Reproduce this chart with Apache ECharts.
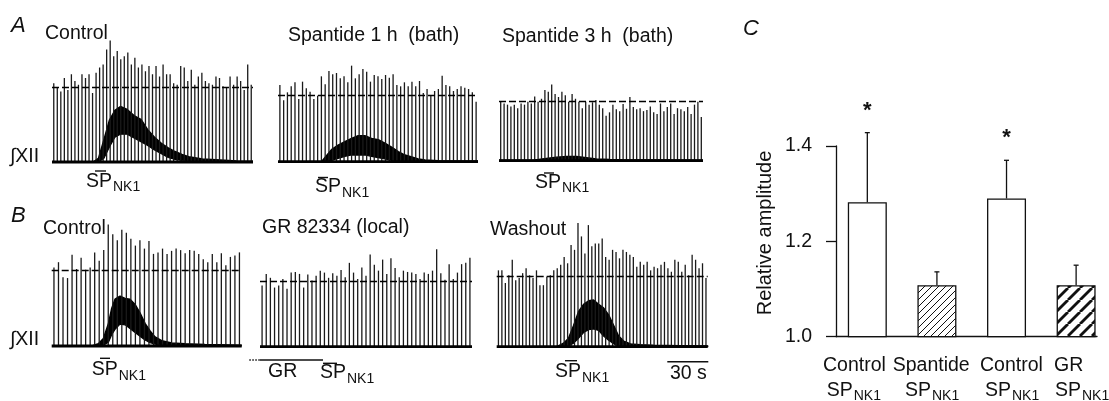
<!DOCTYPE html>
<html><head><meta charset="utf-8">
<script src="https://cdn.jsdelivr.net/npm/echarts@6/dist/echarts.min.js"></script>
<style>html,body{margin:0;padding:0;background:#fff}#c{width:1109px;height:401px}</style>
</head><body><div id="c"></div>
<script>
// ================= DATA =================
// Panel C: relative amplitude of hypoglossal (XII) bursts
const barCategories = ['Control', 'Spantide', 'Control', 'GR'];
const barAgonist = ['SP', 'SP', 'SP', 'SP'];
const barAgonistSub = ['NK1', 'NK1', 'NK1', 'NK1'];
const barMeans = [1.282, 1.108, 1.29, 1.108];
const barErrTops = [1.428, 1.136, 1.37, 1.15];
const barSignif = ['*', '', '*', ''];
const barFills = ['open', 'thin', 'open', 'thick'];
const ampTicks = [1.0, 1.2, 1.4];

// Panels A/B: integrated XII burst amplitudes (relative to dashed control mean = 1)
const dashLevel = 1;
const traceTitles = ['Control', 'Spantide 1 h  (bath)', 'Spantide 3 h  (bath)', 'Control', 'GR 82334 (local)', 'Washout'];
const traceDurations = [147, 146, 149, 139, 155, 154]; // s
const scaleBarSeconds = 30;

const spikesA1 = [1.05,0.99,0.94,1.12,0.96,1.17,1.08,1.03,1.17,1.12,1.17,0.92,1.19,1.26,1.30,1.50,1.62,1.41,1.48,1.37,1.41,1.46,1.30,1.39,1.26,1.30,1.21,1.28,1.17,1.28,1.14,1.30,1.17,1.17,1.05,1.03,1.28,1.26,1.08,1.23,1.03,1.14,1.19,1.08,1.05,1.03,1.14,1.12,1.01,0.99,1.14,1.03,1.14,1.08,0.96,1.30,1.03];
const spikesA2 = [1.15,0.92,1.04,1.13,1.19,0.94,1.2,1.1,1.05,0.94,0.99,1.28,1.16,1.36,1.31,1.33,1.25,1.28,1.19,1.44,1.25,1.31,1.39,1.35,1.2,1.3,1.28,1.24,1.3,1.26,1.31,1.15,1.13,1.19,1.13,1.2,1.13,1.21,1.03,1.09,0.99,1.06,1.09,1.29,1.15,1.13,1.06,1.09,1.13,1.11,1.09,1.04,0.9];
const spikesA3 = [1.0,0.97,0.95,0.92,0.95,0.89,0.97,0.95,1.0,0.97,1.09,1.0,1.05,1.2,1.17,1.29,1.13,1.08,1.17,1.11,1.0,1.13,1.05,1.0,0.89,1.0,0.95,0.99,1.03,0.95,0.89,0.76,0.82,0.95,0.87,0.84,0.96,0.88,1.08,0.91,0.87,0.89,0.84,0.86,0.92,0.82,0.79,0.97,0.84,0.91,0.97,0.79,0.89,0.87,0.84,0.91,0.79,0.95,1.0,0.74];
const spikesB1 = [1.04,1.11,0.91,0.9,1.21,1.02,1.17,1.01,1.04,1.24,1.13,1.27,1.61,1.48,1.4,1.54,1.5,1.42,1.33,1.4,1.29,1.39,1.22,1.24,1.29,1.22,1.26,1.29,1.27,1.23,1.27,1.26,1.22,1.15,1.11,1.22,1.11,1.23,1.07,1.18,1.2,1.24];
const spikesB2 = [0.94,1.12,1.06,0.91,0.94,1.04,0.89,1.14,1.15,1.12,0.91,1.11,1.02,1.09,1.17,1.14,1.06,1.13,1.09,1.18,1.07,1.29,1.14,1.04,1.22,1.09,1.42,1.26,1.17,1.34,1.12,1.36,1.21,1.07,1.17,1.15,1.14,1.12,1.04,1.14,1.12,1.17,1.5,1.13,1.03,1.27,1.04,1.14,1.27,1.29,1.37];
const spikesB3 = [1.08,1.08,0.9,1.01,1.23,0.94,0.97,1.04,1.11,1.01,0.97,1.08,0.87,0.87,0.99,1.01,1.08,1.11,1.16,1.27,1.18,1.44,1.37,1.75,1.56,1.32,1.72,1.42,1.46,1.46,1.53,1.27,1.23,1.37,1.34,1.25,1.37,1.34,1.3,1.27,1.13,1.2,1.16,1.2,1.08,1.13,1.11,1.16,1.2,1.11,1.06,1.23,1.2,1.06,1.16,1.01,1.3,1.23,1.11,1.18,0.97];

// Tonic SP-evoked activity (dense black envelope): time (s), upper edge, lower edge
const humpA1T  = [30,34,38,42,46,50,55,60,65,70,75,80,85,90,95,100,110,120,135,147];
const humpA1Hi = [0,0.05,0.3,0.56,0.69,0.74,0.7,0.62,0.57,0.43,0.33,0.25,0.19,0.14,0.1,0.07,0.04,0.03,0.015,0.01];
const humpA1Lo = [0,0,0.05,0.2,0.33,0.37,0.37,0.32,0.27,0.22,0.16,0.11,0.06,0.035,0.02,0.01,0,0,0,0];
const humpA2T  = [31.7,39,43.9,48.8,53.7,58.5,63.4,68.3,73.2,78,82.9,87.8,92.7,97.6,102.4,107.3,117,146];
const humpA2Hi = [0,0.18,0.25,0.3,0.35,0.39,0.39,0.35,0.33,0.28,0.22,0.15,0.1,0.07,0.04,0.025,0.015,0.01];
const humpA2Lo = [0,0.02,0.05,0.08,0.1,0.1,0.1,0.08,0.06,0.04,0.02,0,0,0,0,0,0,0];
const humpA3T  = [0,24.9,34.6,42,49.3,56.6,63.9,71.2,81,90.7,149];
const humpA3Hi = [0.01,0.01,0.04,0.06,0.07,0.07,0.05,0.03,0.02,0.015,0.01];
const humpA3Lo = [0,0,0,0,0,0,0,0,0,0,0];
const humpB1T  = [29.3,34.1,37.8,41.5,43.9,46.3,50,53.7,57.3,61,64.6,68.3,72,75.6,80.5,87.8,97.6,112.2,139];
const humpB1Hi = [0,0.03,0.1,0.3,0.5,0.62,0.66,0.63,0.62,0.55,0.44,0.3,0.2,0.12,0.07,0.04,0.03,0.02,0.01];
const humpB1Lo = [0,0,0.01,0.05,0.15,0.22,0.29,0.28,0.23,0.18,0.13,0.08,0.045,0.025,0.01,0,0,0,0];
const humpB2T  = [];
const humpB2Hi = [];
const humpB2Lo = [];
const humpB3T  = [43.9,48.8,52.4,56.1,59.8,63.4,67.1,70.7,74.4,78,81.7,85.4,89,92.7,97.6,104.9,114.6,134,154.4];
const humpB3Hi = [0,0.05,0.12,0.3,0.5,0.6,0.65,0.66,0.6,0.55,0.45,0.3,0.15,0.08,0.04,0.03,0.02,0.015,0.01];
const humpB3Lo = [0,0,0.01,0.05,0.12,0.2,0.24,0.25,0.23,0.15,0.09,0.04,0.01,0,0,0,0,0,0];

// ================= LAYOUT / STYLE =================
const FONT = '"Liberation Sans", Arial, Helvetica, sans-serif';
const INK = '#111';
const traces = [
  {spikes: spikesA1, hump: [humpA1T, humpA1Hi, humpA1Lo]},
  {spikes: spikesA2, hump: [humpA2T, humpA2Hi, humpA2Lo]},
  {spikes: spikesA3, hump: [humpA3T, humpA3Hi, humpA3Lo]},
  {spikes: spikesB1, hump: [humpB1T, humpB1Hi, humpB1Lo]},
  {spikes: spikesB2, hump: [humpB2T, humpB2Hi, humpB2Lo]},
  {spikes: spikesB3, hump: [humpB3T, humpB3Hi, humpB3Lo]}
];
const traceLayout = [
  {left: 52,    width: 201, base: 162,   dash: 87},
  {left: 278,   width: 200, base: 161.7, dash: 95},
  {left: 499,   width: 204, base: 160.7, dash: 101.7},
  {left: 51.7,  width: 190, base: 346,   dash: 270.5},
  {left: 260,   width: 212, base: 346.7, dash: 281.7},
  {left: 496.7, width: 211, base: 346.7, dash: 276}
];
const Y_MIN = -0.3, Y_MAX = 1.85;

const grid = [], xAxis = [], yAxis = [], series = [];
traceLayout.forEach((L, k) => {
  const u = L.base - L.dash;
  grid.push({left: L.left, width: L.width, top: L.base - Y_MAX * u, height: (Y_MAX - Y_MIN) * u});
  const tr = traces[k];
  xAxis.push({gridIndex: k, type: 'category', show: false, boundaryGap: true, data: tr.spikes.map((_, i) => i + 1)});
  xAxis.push({gridIndex: k, type: 'value', show: false, min: 0, max: traceDurations[k]});
  yAxis.push({gridIndex: k, type: 'value', show: false, min: Y_MIN, max: Y_MAX});
  const [T, Hi, Lo] = tr.hump;
  if (T.length) {
    series.push({type: 'line', xAxisIndex: 2 * k + 1, yAxisIndex: k, symbol: 'none', z: 2, silent: true,
      data: T.map((t, i) => [t, Hi[i]]), lineStyle: {width: 1.4, color: '#000'},
      areaStyle: {color: '#000', opacity: 1, origin: 0}});
    series.push({type: 'line', xAxisIndex: 2 * k + 1, yAxisIndex: k, symbol: 'none', z: 3, silent: true,
      data: T.map((t, i) => [t, Lo[i]]), lineStyle: {width: 1.2, color: '#000'},
      areaStyle: {color: '#fff', opacity: 1, origin: 0}});
  }
  series.push({
    type: 'bar', xAxisIndex: 2 * k, yAxisIndex: k, data: tr.spikes, barWidth: 1.3, z: 4,
    itemStyle: {color: '#1a1a1a'}, silent: true,
    markLine: {symbol: 'none', silent: true, label: {show: false},
      lineStyle: {type: [7, 3], color: '#000', width: 1.4},
      data: [{yAxis: dashLevel}]}
  });
  series.push({type: 'line', xAxisIndex: 2 * k + 1, yAxisIndex: k, symbol: 'none', z: 5, clip: false,
    data: [[0, 0], [traceDurations[k], 0]], lineStyle: {width: 2.8, color: '#000'}, silent: true});
});

// ---- Panel C ----
function hatch(period, lw) {
  const c = document.createElement('canvas');
  c.width = period; c.height = period;
  const g = c.getContext('2d');
  g.fillStyle = '#fff'; g.fillRect(0, 0, period, period);
  g.strokeStyle = INK; g.lineWidth = lw;
  for (let k = -1; k <= 1; k++) { g.beginPath(); g.moveTo(k * period, period); g.lineTo(k * period + period, 0); g.stroke(); }
  return c;
}
const fillStyles = {
  open: '#ffffff',
  thin: {image: hatch(7, 1), repeat: 'repeat'},
  thick: {image: hatch(12, 2.8), repeat: 'repeat'}
};
const CG = grid.length;
grid.push({left: 836, top: 146, width: 261, height: 190.7});
xAxis.push({gridIndex: CG, type: 'value', min: -0.45, max: 3.3,
  axisLine: {show: true, onZero: false, lineStyle: {color: INK, width: 1.3}},
  axisTick: {show: false}, axisLabel: {show: false}, splitLine: {show: false}});
yAxis.push({gridIndex: CG, type: 'value', min: ampTicks[0], max: ampTicks[ampTicks.length - 1],
  interval: +(ampTicks[1] - ampTicks[0]).toFixed(3),
  axisLine: {show: true, onZero: false, lineStyle: {color: INK, width: 1.3}},
  axisTick: {show: true, inside: false, length: 10, lineStyle: {color: INK, width: 1.3}},
  axisLabel: {fontSize: 19.5, fontFamily: FONT, color: INK, margin: 24, formatter: v => v.toFixed(1)},
  splitLine: {show: false}});
series.push({type: 'bar', xAxisIndex: 2 * CG, yAxisIndex: CG, barWidth: 39, clip: true, z: 2,
  data: barMeans.map((v, i) => ({value: [i, v], itemStyle: {color: fillStyles[barFills[i]]}})),
  itemStyle: {borderColor: INK, borderWidth: 1.3}, silent: true});
series.push({type: 'custom', xAxisIndex: 2 * CG, yAxisIndex: CG, clip: false, z: 5, silent: true,
  data: barMeans.map((v, i) => [i, v, barErrTops[i]]),
  renderItem(params, api) {
    const b = api.coord([api.value(0), api.value(1)]);
    const t = api.coord([api.value(0), api.value(2)]);
    const ch = [
      {type: 'line', shape: {x1: b[0], y1: b[1], x2: t[0], y2: t[1]}, style: {stroke: INK, lineWidth: 1.3}},
      {type: 'line', shape: {x1: t[0] - 2.5, y1: t[1], x2: t[0] + 2.5, y2: t[1]}, style: {stroke: INK, lineWidth: 1.3}}
    ];
    const s = barSignif[params.dataIndex];
    if (s) ch.push({type: 'text', x: t[0], y: t[1] - 22,
      style: {text: s, fontSize: 22, fontWeight: 'bold', fontFamily: FONT, fill: INK, align: 'center', verticalAlign: 'middle'}});
    return {type: 'group', children: ch};
  }});

// ---- Text & annotation graphics ----
function txt(text, x, y, size, extra) {
  return {type: 'text', x, y, silent: true,
    style: Object.assign({text, fontSize: size, fontFamily: FONT, fill: INK, align: 'left', verticalAlign: 'middle'}, extra || {})};
}
function seg(x1, y1, x2, y2, w, dash) {
  return {type: 'line', silent: true, shape: {x1, y1, x2, y2},
    style: {stroke: INK, lineWidth: w || 1.3, lineDash: dash || null}};
}
const TS = 19.5, SUB = 14;
const spLabels = [
  {x: 86,  y: 181.5, ox1: 95,  ox2: 106, oy: 171},
  {x: 315, y: 187,   ox1: 318, ox2: 328, oy: 177.5},
  {x: 535, y: 182.5, ox1: 544, ox2: 554, oy: 173},
  {x: 91.7, y: 370,  ox1: 100, ox2: 110, oy: 358.3},
  {x: 320, y: 373,   ox1: 323, ox2: 337, oy: 363.3},
  {x: 555, y: 371.7, ox1: 565, ox2: 577, oy: 360.7}
];
const titlePos = [[45, 33.5], [288, 36], [502, 37], [43, 229], [262, 228], [490, 230]];
const graphic = [
  txt('A', 11, 25.5, 22, {fontStyle: 'italic'}),
  txt('B', 11, 215.5, 22, {fontStyle: 'italic'}),
  txt('C', 743, 28.5, 22, {fontStyle: 'italic'}),
  txt('\u222BXII', 10, 157, TS),
  txt('\u222BXII', 10, 340, TS)
];
traceTitles.forEach((t, k) => graphic.push(txt(t, titlePos[k][0], titlePos[k][1], TS)));
spLabels.forEach(p => {
  graphic.push(txt('SP', p.x, p.y, TS));
  graphic.push(txt('NK1', p.x + 27, p.y + 6, SUB));
  graphic.push(seg(p.ox1, p.oy, p.ox2, p.oy, 1.4));
});
// GR application bar (dotted onset, then solid) and label
graphic.push(seg(249.3, 360, 260, 360, 1.3, [1.5, 1.5]));
graphic.push(seg(260, 360, 323, 360, 1.3));
graphic.push(txt('GR', 268, 371.7, TS));
// time scale bar
graphic.push(seg(667.3, 361.7, 708.3, 361.7, 1.4));
graphic.push(txt(scaleBarSeconds + ' s', 670, 373.3, TS));
// Panel C axis title and category labels
graphic.push(txt('Relative amplitude', 765, 233, 20, {align: 'center'}));
graphic[graphic.length - 1].rotation = Math.PI / 2;
const catX = [823, 892.7, 980, 1054];
const subX = [826.7, 905, 985, 1055];
barCategories.forEach((c, i) => {
  graphic.push(txt(c, catX[i], 366, TS));
  graphic.push(txt(barAgonist[i], subX[i], 390.5, TS));
  graphic.push(txt(barAgonistSub[i], subX[i] + 27, 396, SUB));
});

const chart = echarts.init(document.getElementById('c'), null, {renderer: 'canvas'});
chart.setOption({animation: false, backgroundColor: '#fff', grid, xAxis, yAxis, series, graphic});
</script></body></html>
